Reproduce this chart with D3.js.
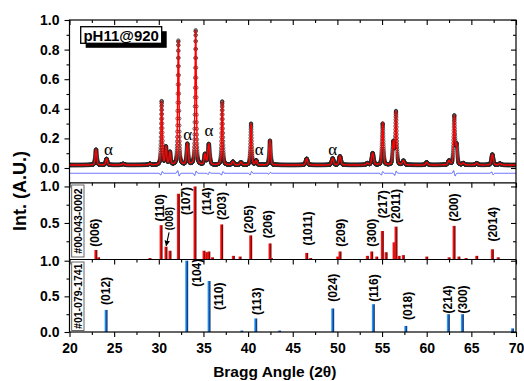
<!DOCTYPE html>
<html>
<head>
<meta charset="utf-8">
<script src="https://cdn.jsdelivr.net/npm/d3@7"></script>
<style>
  body { margin: 0; background: #fff; }
  svg { display: block; font-family: "Liberation Sans", Arial, sans-serif; }
</style>
</head>
<body>
<svg id="chart" width="524" height="381"></svg>
<script>
// ---- Refined pattern (pH11@920): reflection list of the fitted profile ----
const peakPos    = [22.97, 24.15, 26.0, 29.0, 30.32, 30.80, 31.25, 32.19, 33.20, 34.13, 35.17, 35.60, 37.10, 38.30, 39.20, 40.33, 40.90, 42.45, 46.56, 49.47, 50.29, 53.35, 53.95, 55.07, 56.26, 56.56, 57.40, 60.00, 62.50, 63.09, 63.35, 64.10, 65.60, 67.35, 68.20];
const peakHeight = [0.105, 0.042, 0.008, 0.008, 0.43, 0.12, 0.085, 0.84, 0.14, 0.91, 0.07, 0.14, 0.43, 0.022, 0.018, 0.28, 0.03, 0.165, 0.043, 0.045, 0.06, 0.012, 0.08, 0.28, 0.15, 0.36, 0.028, 0.018, 0.028, 0.33, 0.13, 0.012, 0.013, 0.072, 0.01];
const peakFwhm   = [0.22, 0.22, 0.3, 0.3, 0.18, 0.2, 0.2, 0.18, 0.22, 0.18, 0.22, 0.25, 0.18, 0.26, 0.26, 0.18, 0.22, 0.2, 0.25, 0.26, 0.26, 0.26, 0.26, 0.2, 0.2, 0.2, 0.26, 0.26, 0.26, 0.2, 0.2, 0.26, 0.26, 0.25, 0.26];
const background = 0.02;
const scanStart = 20, scanEnd = 70, scanStep = 0.01;

// Difference curve (obs - calc): residual features and offset
const diffPos    = [30.3, 32.2, 34.1, 35.6, 37.1, 40.3, 42.4, 55.0, 56.5, 63.1, 67.35];
const diffAmp    = [0.012, -0.018, 0.015, 0.008, 0.012, 0.012, 0.006, 0.012, 0.014, -0.018, -0.01];
const diffOffset = -0.036;

// Reference card #00-043-0002
const refAPos = [22.95, 23.25, 29.0, 30.25, 30.8, 31.25, 32.19, 34.05, 35.06, 35.35, 35.6, 36.0, 37.04, 38.35, 39.1, 40.29, 42.45, 42.6, 46.56, 47.0, 50.03, 50.29, 53.35, 53.84, 54.4, 55.03, 55.45, 56.34, 56.56, 56.9, 57.38, 60.0, 62.5, 63.06, 63.6, 64.4, 65.6, 67.35, 68.0];
const refAInt = [0.13, 0.03, 0.02, 0.47, 0.175, 0.12, 0.9, 1.0, 0.12, 0.1, 0.11, 0.03, 0.48, 0.05, 0.04, 0.33, 0.22, 0.02, 0.09, 0.02, 0.04, 0.11, 0.05, 0.11, 0.04, 0.39, 0.1, 0.235, 0.45, 0.05, 0.06, 0.04, 0.03, 0.46, 0.04, 0.02, 0.05, 0.14, 0.03];
const refAHkl    = ["(006)", "(110)", "(008)", "(107)", "(114)", "(203)", "(205)", "(206)", "(1011)", "(209)", "(300)", "(217)", "(2011)", "(200)", "(2014)"];
const refAHklX   = [22.86, 30.13, 31.25, 33.05, 35.36, 37.04, 40.10, 42.26, 46.63, 50.37, 53.84, 55.07, 56.56, 63.06, 67.35];
const refAHklY   = [0.175, 0.52, 0.40, 0.61, 0.61, 0.54, 0.36, 0.29, 0.19, 0.175, 0.175, 0.565, 0.50, 0.52, 0.245];

// Reference card #01-079-1741
const refBPos = [24.09, 33.12, 35.62, 39.28, 40.85, 43.5, 49.47, 54.02, 57.65, 62.42, 63.99, 69.6];
const refBInt = [0.31, 1.0, 0.715, 0.02, 0.19, 0.02, 0.33, 0.39, 0.085, 0.25, 0.25, 0.05];
const refBHkl  = ["(012)", "(104)", "(110)", "(113)", "(024)", "(116)", "(018)", "(214)", "(300)"];
const refBHklX = [24.09, 34.24, 36.77, 40.96, 49.47, 54.02, 57.83, 62.35, 64.03];
const refBHklY = [0.38, 0.635, 0.31, 0.24, 0.425, 0.425, 0.17, 0.26, 0.26];

// α markers on the pattern
const alphaX = [24.37, 33.24, 35.62, 41.25, 49.47];
const alphaY = [0.113, 0.216, 0.245, 0.115, 0.117];

// Axis ticks
const xMajor = [20, 25, 30, 35, 40, 45, 50, 55, 60, 65, 70];
const xMinor = [22.5, 27.5, 32.5, 37.5, 42.5, 47.5, 52.5, 57.5, 62.5, 67.5];
const topMajor = [0, 0.2, 0.4, 0.6, 0.8, 1.0];
const topMinor = [0.1, 0.3, 0.5, 0.7, 0.9];
const midMajor = [0.5, 1.0];
const midMinor = [0.25, 0.75];
const botMajor = [0, 0.5, 1.0];
const botMinor = [0.25, 0.75];

// ---- Layout ----
const svg = d3.select("#chart");
const X0 = 69.5, X1 = 516;
const TOP = 20, B1 = 182.8, B2 = 259.5, B3 = 332;

const x = d3.scaleLinear().domain([20, 70]).range([X0, X1]);
const yTop = d3.scaleLinear().domain([-0.1, 1]).range([B1, TOP]);
const yMid = d3.scaleLinear().domain([0, 1.05]).range([B2, B1]);
const yBot = d3.scaleLinear().domain([0, 1.017]).range([B3, B2]);

const defs = svg.append("defs");
function clip(id, y0, y1) {
  defs.append("clipPath").attr("id", id).append("rect")
    .attr("x", X0).attr("y", y0).attr("width", X1 - X0).attr("height", y1 - y0);
}
clip("clipTop", TOP, B1); clip("clipMid", B1, B2); clip("clipBot", B2, B3);

function grad(id, stops) {
  const g = defs.append("linearGradient").attr("id", id)
    .attr("x1", "0").attr("x2", "1").attr("y1", "0").attr("y2", "0");
  stops.forEach(([o, c]) => g.append("stop").attr("offset", o).attr("stop-color", c));
}
grad("redBar", [["0", "#ff3030"], ["0.55", "#d00000"], ["1", "#4a0000"]]);
grad("blueBar", [["0", "#4ab8ff"], ["0.5", "#1668d0"], ["1", "#002050"]]);

defs.append("marker").attr("id", "arrowHead").attr("viewBox", "0 0 10 10")
  .attr("refX", 9).attr("refY", 5).attr("markerWidth", 5).attr("markerHeight", 5)
  .attr("orient", "auto").append("path").attr("d", "M0,0 L10,5 L0,10 z").attr("fill", "#000");

// ---- Pattern (top panel) ----
function profile(t) {
  let s = background;
  for (let i = 0; i < peakPos.length; i++) {
    const u = (t - peakPos[i]) / peakFwhm[i];
    const g = Math.exp(-4 * Math.LN2 * u * u);
    const l = 1 / (1 + 4 * u * u);
    s += peakHeight[i] * (0.65 * g + 0.35 * l);
  }
  return s;
}
function residual(t) {
  let s = diffOffset;
  for (let i = 0; i < diffPos.length; i++) {
    const u = (t - diffPos[i]) / 0.12;
    s += diffAmp[i] * 2.33 * u * Math.exp(-u * u);
  }
  return s;
}
const scan = d3.range(scanStart, scanEnd + scanStep / 2, scanStep);
const pattern = scan.map(t => ({ t, obs: profile(t), calc: profile(t), diff: residual(t) }));

const gTop = svg.append("g").attr("clip-path", "url(#clipTop)");
const obsG = gTop.append("g").attr("fill", "none").attr("stroke", "#2a2a2a").attr("stroke-width", 0.7);
obsG.selectAll("circle").data(pattern).join("circle")
  .attr("cx", d => x(d.t)).attr("cy", d => yTop(d.obs)).attr("r", 1.6);
gTop.append("path").datum(pattern)
  .attr("fill", "none").attr("stroke", "#ff0000").attr("stroke-width", 1.4)
  .attr("d", d3.line().x(d => x(d.t)).y(d => yTop(d.calc)));
gTop.append("path").datum(pattern)
  .attr("fill", "none").attr("stroke", "#2b3dff").attr("stroke-width", 0.8)
  .attr("d", d3.line().x(d => x(d.t)).y(d => yTop(d.diff)));

// α labels
svg.append("g").selectAll("text").data(alphaX).join("text")
  .attr("x", d => x(d)).attr("y", (d, i) => yTop(alphaY[i]) + 4)
  .attr("text-anchor", "middle")
  .style("font-family", "'Liberation Serif', 'Times New Roman', serif")
  .style("font-size", "17px").text("α");

// Sample box with drop shadow
const box = { x: 80.7, y: 26.7, w: 81, h: 16.6 };
svg.append("rect").attr("x", box.x + 5).attr("y", box.y + 4.5).attr("width", box.w).attr("height", box.h).attr("fill", "#000");
svg.append("rect").attr("x", box.x).attr("y", box.y).attr("width", box.w).attr("height", box.h)
  .attr("fill", "#fff").attr("stroke", "#000").attr("stroke-width", 1.3);
svg.append("text").attr("x", box.x + box.w / 2).attr("y", box.y + 14)
  .attr("text-anchor", "middle").style("font-weight", "bold").style("font-size", "15px").text("pH11@920");

// ---- Reference bars ----
function bars(g, pos, ints, yScale, fill, clipId) {
  g.append("g").attr("clip-path", `url(#${clipId})`).selectAll("rect").data(pos).join("rect")
    .attr("x", d => x(d) - 1.5).attr("width", 3)
    .attr("y", (d, i) => yScale(ints[i]))
    .attr("height", (d, i) => yScale(0) - yScale(ints[i]))
    .attr("fill", fill);
}
function hklLabels(g, labels, lx, ly, yScale, sizeFn) {
  g.append("g").selectAll("text").data(labels).join("text")
    .attr("transform", (d, i) => `translate(${x(lx[i])},${yScale(ly[i])}) rotate(-90)`)
    .attr("dy", "0.35em").attr("text-anchor", "start")
    .style("font-weight", "bold").style("font-size", d => sizeFn(d)).text(d => d);
}
const gMid = svg.append("g");
bars(gMid, refAPos, refAInt, yMid, "url(#redBar)", "clipMid");
hklLabels(gMid, refAHkl, refAHklX, refAHklY, yMid, d => d === "(008)" ? "10px" : "12px");
// pointer to the (008) reflection
gMid.append("line")
  .attr("x1", x(31.15)).attr("y1", yMid(0.37))
  .attr("x2", x(30.83)).attr("y2", yMid(0.19))
  .attr("stroke", "#000").attr("stroke-width", 1.1).attr("marker-end", "url(#arrowHead)");

const gBot = svg.append("g");
bars(gBot, refBPos, refBInt, yBot, "url(#blueBar)", "clipBot");
hklLabels(gBot, refBHkl, refBHklX, refBHklY, yBot, () => "12px");

// Card number boxes
function cardBox(label, y0, y1) {
  svg.append("rect").attr("x", 71.7).attr("y", y0).attr("width", 12.3).attr("height", y1 - y0)
    .attr("fill", "#fff").attr("stroke", "#555").attr("stroke-width", 0.9);
  svg.append("text").attr("transform", `translate(${71.7 + 6.15},${(y0 + y1) / 2}) rotate(-90)`)
    .attr("dy", "0.36em").attr("text-anchor", "middle")
    .style("font-size", "10.5px").style("font-weight", "bold").text(label);
}
cardBox("#00-043-0002", 185, 257);
cardBox("#01-079-1741", 262, 330.5);

// ---- Frame and axes ----
svg.append("rect").attr("x", X0).attr("y", TOP).attr("width", X1 - X0).attr("height", B3 - TOP)
  .attr("fill", "none").attr("stroke", "#000").attr("stroke-width", 1.2);
[B1, B2].forEach(yy => svg.append("line").attr("x1", X0).attr("x2", X1).attr("y1", yy).attr("y2", yy)
  .attr("stroke", "#000").attr("stroke-width", 1.2));

function styleAxis(g) {
  g.select(".domain").remove();
  g.selectAll("line").attr("stroke", "#000").attr("stroke-width", 1.1);
  g.selectAll("text").attr("fill", "#000")
    .style("font-family", "'Liberation Sans', Arial, sans-serif")
    .style("font-weight", "bold").style("font-size", "14px");
}
function xAxisAt(yy, labelled) {
  svg.append("g").attr("transform", `translate(0,${yy})`)
    .call(d3.axisBottom(x).tickValues(xMajor).tickSize(5).tickPadding(6)
      .tickFormat(labelled ? d3.format("d") : () => ""))
    .call(styleAxis);
  svg.append("g").attr("transform", `translate(0,${yy})`)
    .call(d3.axisBottom(x).tickValues(xMinor).tickSize(3).tickFormat(() => ""))
    .call(styleAxis);
}
xAxisAt(TOP, false); xAxisAt(B1, false); xAxisAt(B2, false); xAxisAt(B3, true);

function yAxisAt(scale, major, minor) {
  [[X0, true], [X1, false]].forEach(([xx, labelled]) => {
    svg.append("g").attr("transform", `translate(${xx},0)`)
      .call(d3.axisLeft(scale).tickValues(major).tickSize(5).tickPadding(5)
        .tickFormat(labelled ? d3.format(".1f") : () => ""))
      .call(styleAxis);
    svg.append("g").attr("transform", `translate(${xx},0)`)
      .call(d3.axisLeft(scale).tickValues(minor).tickSize(3).tickFormat(() => ""))
      .call(styleAxis);
  });
}
yAxisAt(yTop, topMajor, topMinor);
yAxisAt(yMid, midMajor, midMinor);
yAxisAt(yBot, botMajor, botMinor);

// Axis titles
svg.append("text").attr("transform", "translate(20,191) rotate(-90)")
  .attr("text-anchor", "middle").attr("dy", "0.35em")
  .style("font-weight", "bold").style("font-size", "18px").text("Int. (A.U.)");
svg.append("text").attr("x", (X0 + X1) / 2 - 18).attr("y", 377)
  .attr("text-anchor", "middle")
  .style("font-weight", "bold").style("font-size", "15.5px").text("Bragg Angle (2θ)");
</script>
</body>
</html>
